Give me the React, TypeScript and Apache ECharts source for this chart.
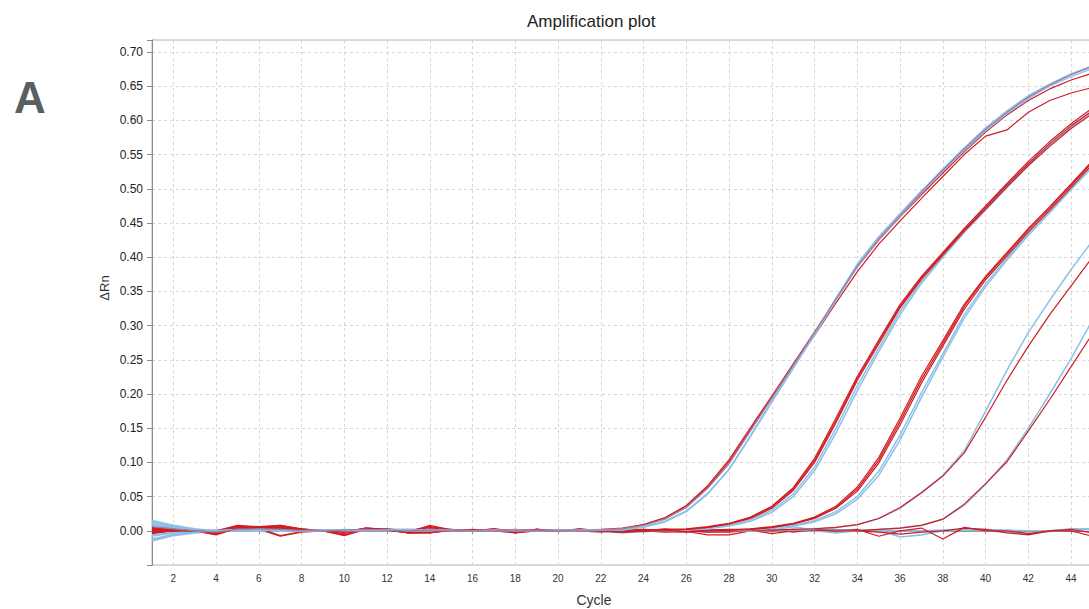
import React, { useEffect, useRef } from 'react';
import * as echarts from 'echarts';

const CYCLES = [
  '1', '2', '3', '4', '5', '6', '7', '8', '9', '10',
  '11', '12', '13', '14', '15', '16', '17', '18', '19', '20',
  '21', '22', '23', '24', '25', '26', '27', '28', '29', '30',
  '31', '32', '33', '34', '35', '36', '37', '38', '39', '40',
  '41', '42', '43', '44', '45',
];

const Y_MIN = -0.05;
const Y_MAX = 0.7175;
const Y_STEP = 0.05;

// Group 1 (earliest Ct)
const G1_BLUE_A = [
  0.012, 0.006, 0.002, 0.000, 0.001, 0.001, 0.000, -0.001, 0.000, 0.001, 0.001, 0.002, 0.001, 0.001, 0.000, 0.000, 0.001, 0.000, 0.000, 0.001, 0.001, 0.002,
  0.002, 0.006, 0.014, 0.029, 0.055, 0.090, 0.138, 0.188, 0.238, 0.289, 0.340, 0.390, 0.430, 0.464, 0.497, 0.529, 0.560, 0.589, 0.614, 0.636, 0.653, 0.668, 0.680,
];
const G1_BLUE_B = [
  -0.012, -0.005, -0.002, 0.000, 0.002, 0.001, 0.001, 0.000, 0.001, 0.000, 0.000, 0.001, 0.000, 0.000, 0.001, 0.000, 0.000, 0.001, 0.000, 0.000, 0.000, 0.001,
  0.001, 0.005, 0.013, 0.028, 0.054, 0.090, 0.139, 0.190, 0.238, 0.287, 0.337, 0.386, 0.426, 0.460, 0.494, 0.526, 0.556, 0.585, 0.610, 0.632, 0.650, 0.664, 0.676,
];
const G1_PURPLE = [
  0.006, 0.003, 0.000, -0.002, 0.002, 0.003, 0.002, 0.000, 0.000, 0.001, 0.002, 0.001, 0.000, 0.001, 0.001, 0.000, 0.000, 0.000, 0.001, 0.000, 0.001, 0.001,
  0.003, 0.008, 0.017, 0.034, 0.062, 0.098, 0.146, 0.194, 0.242, 0.290, 0.339, 0.387, 0.427, 0.461, 0.495, 0.527, 0.558, 0.587, 0.612, 0.634, 0.652, 0.667, 0.679,
];
const G1_RED_A = [
  -0.003, 0.001, 0.000, -0.005, 0.006, 0.004, -0.007, -0.001, 0.000, 0.000, 0.002, 0.002, 0.000, 0.001, 0.000, 0.000, 0.002, 0.000, -0.001, 0.000, 0.001, 0.002,
  0.004, 0.009, 0.019, 0.036, 0.064, 0.101, 0.148, 0.195, 0.241, 0.286, 0.333, 0.379, 0.419, 0.453, 0.486, 0.518, 0.550, 0.577, 0.586, 0.612, 0.629, 0.640, 0.648,
];
const G1_RED_B = [
  0.002, 0.001, -0.001, 0.000, 0.007, 0.005, 0.008, 0.002, 0.000, -0.001, 0.001, 0.001, -0.002, 0.008, 0.001, -0.001, 0.000, 0.002, 0.000, 0.001, 0.000, 0.001,
  0.003, 0.009, 0.019, 0.037, 0.066, 0.104, 0.151, 0.197, 0.244, 0.291, 0.338, 0.386, 0.425, 0.459, 0.491, 0.523, 0.554, 0.583, 0.608, 0.629, 0.646, 0.659, 0.669,
];

// Group 2
const G2_RED_A = [
  0.003, 0.002, 0.000, -0.006, 0.004, 0.005, 0.003, 0.001, 0.000, -0.002, 0.004, 0.002, -0.003, -0.003, 0.001, 0.000, 0.001, -0.002, 0.002, 0.000, 0.001, 0.000, -0.002, 0.001, 0.002,
  0.003, 0.006, 0.011, 0.020, 0.036, 0.063, 0.106, 0.165, 0.226, 0.279, 0.331, 0.372, 0.407, 0.442, 0.475, 0.508, 0.540, 0.569, 0.595, 0.618,
];
const G2_RED_B = [
  -0.004, 0.000, 0.001, 0.000, 0.008, 0.006, 0.005, 0.000, 0.000, -0.007, 0.002, 0.003, 0.000, 0.006, 0.002, 0.000, 0.003, 0.000, 0.001, 0.000, 0.002, 0.001, 0.000, 0.001, 0.001,
  0.002, 0.005, 0.010, 0.019, 0.035, 0.061, 0.103, 0.161, 0.223, 0.276, 0.328, 0.370, 0.405, 0.440, 0.473, 0.506, 0.537, 0.566, 0.592, 0.614,
];
const G2_RED_C = [
  0.000, 0.001, 0.000, -0.002, 0.003, 0.002, 0.007, 0.002, 0.000, 0.000, 0.000, 0.001, -0.003, -0.002, 0.000, 0.002, 0.000, -0.003, 0.000, 0.001, 0.000, 0.000, -0.002, -0.001, 0.000,
  0.002, 0.005, 0.010, 0.018, 0.033, 0.059, 0.100, 0.158, 0.220, 0.273, 0.326, 0.368, 0.403, 0.438, 0.470, 0.503, 0.534, 0.562, 0.588, 0.610,
];
const G2_BLUE_A = [
  0.010, 0.005, 0.001, 0.000, 0.001, 0.002, 0.001, 0.000, 0.000, 0.001, 0.002, 0.001, 0.002, 0.001, 0.000, 0.000, 0.000, 0.001, 0.000, 0.000, 0.001, 0.000, -0.001, 0.000, 0.000,
  0.001, 0.003, 0.007, 0.014, 0.027, 0.050, 0.088, 0.143, 0.205, 0.262, 0.316, 0.362, 0.400, 0.436, 0.469, 0.502, 0.534, 0.563, 0.590, 0.613,
];
const G2_BLUE_B = [
  -0.008, -0.003, -0.001, 0.001, 0.001, 0.000, 0.000, 0.001, 0.000, 0.000, 0.001, 0.000, 0.000, 0.000, 0.001, 0.001, 0.000, 0.000, 0.001, 0.001, 0.000, 0.000, 0.000, -0.001, 0.000,
  0.001, 0.004, 0.008, 0.016, 0.030, 0.054, 0.093, 0.150, 0.212, 0.267, 0.321, 0.365, 0.402, 0.438, 0.471, 0.504, 0.536, 0.565, 0.591, 0.614,
];

// Group 3
const G3_RED_A = [
  0.004, 0.002, 0.001, -0.003, 0.005, 0.006, 0.004, 0.002, 0.001, 0.000, 0.003, 0.002, 0.000, 0.003, 0.001, 0.000, 0.002, 0.000, 0.002, 0.000, 0.001, 0.000, -0.001, 0.000, -0.001, -0.002, 0.000, 0.001,
  0.003, 0.006, 0.011, 0.020, 0.036, 0.064, 0.107, 0.165, 0.226, 0.278, 0.331, 0.372, 0.407, 0.442, 0.474, 0.507, 0.541,
];
const G3_RED_B = [
  -0.002, 0.000, 0.000, -0.001, 0.005, 0.004, 0.006, 0.003, 0.000, -0.002, 0.004, 0.002, -0.002, 0.000, 0.001, 0.000, 0.001, 0.000, 0.001, 0.000, 0.002, 0.001, 0.001, 0.002, 0.000, -0.001, 0.000, 0.001,
  0.002, 0.005, 0.010, 0.019, 0.034, 0.061, 0.103, 0.160, 0.221, 0.274, 0.328, 0.370, 0.405, 0.440, 0.472, 0.505, 0.539,
];
const G3_RED_C = [
  0.001, 0.001, 0.000, -0.002, 0.004, 0.003, 0.002, 0.001, 0.000, -0.001, 0.001, 0.001, -0.002, -0.002, 0.000, 0.000, 0.000, 0.000, 0.001, 0.000, 0.001, 0.000, -0.002, 0.000, 0.001, 0.000, 0.001, 0.002,
  0.002, 0.005, 0.010, 0.018, 0.033, 0.058, 0.099, 0.155, 0.216, 0.270, 0.324, 0.367, 0.402, 0.437, 0.469, 0.502, 0.536,
];
const G3_BLUE_A = [
  0.014, 0.007, 0.002, 0.000, 0.001, 0.001, 0.002, 0.001, 0.000, 0.001, 0.001, 0.002, 0.002, 0.001, 0.000, 0.000, 0.001, 0.000, 0.000, 0.001, 0.000, 0.000, 0.000, 0.000, 0.000, 0.001, 0.001, 0.001,
  0.002, 0.004, 0.008, 0.015, 0.028, 0.050, 0.087, 0.140, 0.202, 0.259, 0.316, 0.361, 0.399, 0.435, 0.468, 0.501, 0.535,
];
const G3_BLUE_B = [
  -0.014, -0.006, -0.002, 0.000, 0.001, 0.001, 0.000, 0.000, 0.001, 0.000, 0.001, 0.001, 0.000, 0.001, 0.001, 0.000, 0.000, 0.001, 0.000, 0.000, 0.000, 0.001, 0.000, -0.001, 0.000, 0.000, 0.000, 0.001,
  0.002, 0.004, 0.007, 0.013, 0.025, 0.046, 0.081, 0.133, 0.195, 0.254, 0.311, 0.357, 0.396, 0.432, 0.465, 0.499, 0.532,
];

// Group 4
const G4_BLUE = [
  0.008, 0.004, 0.001, 0.000, 0.001, 0.000, 0.001, 0.001, 0.000, 0.000, 0.001, 0.002, 0.001, 0.000, 0.000, 0.001, 0.000, 0.000, 0.001, 0.000, 0.000, 0.001, 0.000, 0.000, 0.000, 0.001, 0.000, 0.001, 0.000, 0.001,
  0.001, 0.003, 0.005, 0.009, 0.018, 0.033, 0.055, 0.081, 0.117, 0.175, 0.235, 0.290, 0.337, 0.382, 0.424,
];
const G4_RED = [
  0.002, 0.001, 0.000, -0.003, 0.006, 0.004, 0.003, 0.000, 0.000, -0.004, 0.003, 0.002, -0.001, 0.005, 0.000, 0.000, 0.002, -0.001, 0.001, 0.000, 0.002, -0.001, -0.001, 0.002, 0.000, 0.000, 0.001, 0.000, 0.001, 0.001,
  0.002, 0.003, 0.005, 0.009, 0.018, 0.034, 0.056, 0.080, 0.114, 0.166, 0.220, 0.270, 0.316, 0.358, 0.400,
];

// Group 5 (latest Ct)
const G5_BLUE = [
  -0.006, -0.003, -0.001, 0.000, 0.001, 0.001, 0.000, 0.000, 0.000, 0.001, 0.001, 0.001, 0.000, 0.001, 0.000, 0.000, 0.000, 0.000, 0.000, 0.001, 0.000, -0.001, -0.002, 0.000, 0.000, 0.000, 0.001, 0.000, 0.000, 0.001, 0.002, 0.000, 0.001, 0.000,
  0.002, 0.004, 0.008, 0.017, 0.037, 0.068, 0.104, 0.150, 0.200, 0.252, 0.308,
];
const G5_RED = [
  0.001, 0.000, 0.000, -0.002, 0.004, 0.003, 0.005, 0.001, 0.000, -0.001, 0.002, 0.001, -0.002, 0.002, 0.000, 0.001, 0.001, -0.002, 0.000, 0.000, 0.002, 0.000, -0.001, 0.001, 0.000, 0.001, 0.000, 0.000, 0.001, 0.000, 0.002, 0.001, 0.000, 0.000,
  0.002, 0.004, 0.008, 0.017, 0.039, 0.069, 0.101, 0.146, 0.192, 0.240, 0.288,
];

// Non-amplifying wells
const NEG_RED_A = [
  0.005, 0.002, 0.000, -0.004, 0.003, 0.006, 0.008, 0.003, 0.000, -0.006,
  0.004, 0.002, -0.003, 0.002, 0.001, 0.000, 0.003, -0.003, 0.002, 0.000,
  0.003, 0.000, -0.002, 0.000, -0.002, -0.001, -0.006, -0.006, 0.000, 0.003,
  -0.002, 0.002, 0.000, 0.002, -0.008, 0.000, 0.004, -0.012, 0.005, 0.000,
  0.000, -0.004, 0.000, 0.000, -0.008,
];
const NEG_RED_B = [
  -0.002, 0.000, 0.000, -0.001, 0.004, 0.002, -0.008, -0.002, 0.000, 0.000,
  0.003, 0.001, -0.003, -0.003, 0.002, 0.000, 0.000, -0.001, 0.002, 0.000,
  0.000, -0.002, 0.000, 0.000, 0.003, 0.000, -0.002, -0.002, 0.001, -0.004,
  0.000, 0.003, 0.002, 0.000, -0.002, -0.005, -0.002, 0.000, 0.004, 0.002,
  -0.003, -0.006, 0.000, 0.002, -0.003,
];
const NEG_BLUE_A = [
  0.015, 0.008, 0.003, 0.000, 0.001, 0.000, 0.001, 0.000, 0.000, 0.002,
  0.001, 0.002, 0.002, 0.001, 0.000, 0.000, 0.001, 0.000, 0.000, 0.001,
  0.001, 0.000, -0.002, -0.001, 0.000, 0.000, 0.001, 0.000, 0.002, 0.001,
  0.006, 0.001, 0.000, 0.001, 0.001, -0.009, -0.006, 0.000, 0.001, 0.000,
  -0.002, -0.005, 0.000, 0.002, 0.003,
];
const NEG_BLUE_B = [
  -0.015, -0.007, -0.003, -0.001, 0.000, 0.000, 0.000, 0.001, 0.000, 0.000,
  0.000, 0.001, 0.001, 0.000, 0.000, 0.001, 0.000, 0.000, 0.001, 0.000,
  0.000, 0.000, -0.003, 0.000, 0.001, 0.001, -0.002, 0.000, 0.000, 0.000,
  0.001, 0.000, -0.003, 0.000, 0.000, 0.000, 0.000, 0.001, 0.002, 0.000,
  -0.001, -0.004, -0.001, 0.001, 0.002,
];
const NEG_BLUE_C = [
  0.004, 0.006, 0.002, 0.000, 0.000, 0.001, 0.000, 0.000, 0.000, 0.001,
  0.000, 0.001, 0.001, 0.001, 0.001, 0.000, 0.000, 0.001, 0.000, 0.000,
  0.001, 0.001, 0.000, 0.000, 0.000, -0.001, 0.000, 0.001, 0.002, 0.002,
  0.001, 0.000, 0.001, 0.002, 0.001, 0.000, 0.000, 0.000, 0.001, 0.002,
  0.001, 0.000, 0.000, 0.003, 0.003,
];

const RED = '#d01c22';
const BLUE = '#8cc1e7';
const PURPLE = '#9a80a8';
const FONT = '"Liberation Sans", Arial, Helvetica, sans-serif';

type Curve = { name: string; data: number[]; color: string; width: number };

const CURVES: Curve[] = [
  { name: 'NTC blue A', data: NEG_BLUE_A, color: BLUE, width: 1.6 },
  { name: 'NTC blue B', data: NEG_BLUE_B, color: BLUE, width: 1.6 },
  { name: 'NTC blue C', data: NEG_BLUE_C, color: BLUE, width: 1.6 },
  { name: 'NTC red A', data: NEG_RED_A, color: RED, width: 1.2 },
  { name: 'NTC red B', data: NEG_RED_B, color: RED, width: 1.2 },
  { name: 'S5 blue', data: G5_BLUE, color: BLUE, width: 1.5 },
  { name: 'S5 red', data: G5_RED, color: RED, width: 1.2 },
  { name: 'S4 blue', data: G4_BLUE, color: BLUE, width: 1.5 },
  { name: 'S4 red', data: G4_RED, color: RED, width: 1.2 },
  { name: 'S3 blue A', data: G3_BLUE_A, color: BLUE, width: 1.5 },
  { name: 'S3 blue B', data: G3_BLUE_B, color: BLUE, width: 1.5 },
  { name: 'S3 red A', data: G3_RED_A, color: RED, width: 1.2 },
  { name: 'S3 red B', data: G3_RED_B, color: RED, width: 1.2 },
  { name: 'S3 red C', data: G3_RED_C, color: RED, width: 1.2 },
  { name: 'S2 blue A', data: G2_BLUE_A, color: BLUE, width: 1.5 },
  { name: 'S2 blue B', data: G2_BLUE_B, color: BLUE, width: 1.5 },
  { name: 'S2 red A', data: G2_RED_A, color: RED, width: 1.2 },
  { name: 'S2 red B', data: G2_RED_B, color: RED, width: 1.2 },
  { name: 'S2 red C', data: G2_RED_C, color: RED, width: 1.2 },
  { name: 'S1 red A', data: G1_RED_A, color: RED, width: 1.2 },
  { name: 'S1 red B', data: G1_RED_B, color: RED, width: 1.2 },
  { name: 'S1 blue A', data: G1_BLUE_A, color: BLUE, width: 1.5 },
  { name: 'S1 blue B', data: G1_BLUE_B, color: BLUE, width: 1.5 },
  { name: 'S1 purple', data: G1_PURPLE, color: PURPLE, width: 1.3 },
];

export default function App() {
  const ref = useRef<HTMLDivElement>(null);

  useEffect(() => {
    if (!ref.current) return;
    const chart = echarts.init(ref.current, null, { renderer: 'svg' });
    const evenOnly = (_i: number, v: string) => Number(v) % 2 === 0;

    chart.setOption({
      animation: false,
      backgroundColor: '#ffffff',
      textStyle: { fontFamily: FONT },
      title: {
        text: 'Amplification plot',
        left: 527,
        top: 13,
        padding: 0,
        textStyle: { fontSize: 17, fontWeight: 'normal', color: '#222', fontFamily: FONT },
      },
      grid: {
        left: 152,
        top: 40,
        right: 7.5,
        bottom: 44,
        show: true,
        borderColor: '#b4b4b4',
        borderWidth: 1,
        backgroundColor: 'transparent',
      },
      xAxis: {
        type: 'category',
        data: CYCLES,
        boundaryGap: false,
        axisLine: { show: true, lineStyle: { color: '#8a8a8a', width: 1 } },
        axisTick: { show: true, interval: evenOnly, length: 3, lineStyle: { color: '#8a8a8a' } },
        axisLabel: { interval: evenOnly, fontSize: 10, color: '#333', margin: 8, fontFamily: FONT },
        splitLine: {
          show: true,
          interval: evenOnly,
          lineStyle: { color: '#d6d6d6', type: [3, 3], width: 1 },
        },
      },
      yAxis: {
        type: 'value',
        min: Y_MIN,
        max: Y_MAX,
        interval: Y_STEP,
        axisLine: { show: true, lineStyle: { color: '#8a8a8a', width: 1 } },
        axisTick: { show: true, length: 5, lineStyle: { color: '#8a8a8a' } },
        axisLabel: {
          fontSize: 12,
          color: '#222',
          margin: 9,
          fontFamily: FONT,
          formatter: (v: number) => (v < -0.001 || v > 0.7001 ? '' : v.toFixed(2)),
        },
        splitLine: { show: true, lineStyle: { color: '#d6d6d6', type: [3, 3], width: 1 } },
      },
      graphic: [
        {
          type: 'text',
          x: 30,
          y: 97,
          style: {
            text: 'A',
            fontSize: 44,
            fontWeight: 'bold',
            fontFamily: FONT,
            fill: '#595e62',
            align: 'center',
            verticalAlign: 'middle',
          },
        },
        {
          type: 'text',
          x: 594,
          y: 600,
          style: {
            text: 'Cycle',
            fontSize: 14,
            fontFamily: FONT,
            fill: '#333',
            align: 'center',
            verticalAlign: 'middle',
          },
        },
        {
          type: 'text',
          x: 104,
          y: 288,
          rotation: Math.PI / 2,
          style: {
            text: 'ΔRn',
            fontSize: 13,
            fontFamily: FONT,
            fill: '#333',
            align: 'center',
            verticalAlign: 'middle',
          },
        },
      ],
      series: CURVES.map((c) => ({
        name: c.name,
        type: 'line',
        data: c.data,
        symbol: 'none',
        smooth: false,
        silent: true,
        lineStyle: { color: c.color, width: c.width },
        itemStyle: { color: c.color },
        emphasis: { disabled: true },
      })),
    });

    return () => chart.dispose();
  }, []);

  return (
    <div
      ref={ref}
      style={{ position: 'fixed', left: 0, top: 0, width: 1100, height: 609, background: '#fff' }}
    />
  );
}
